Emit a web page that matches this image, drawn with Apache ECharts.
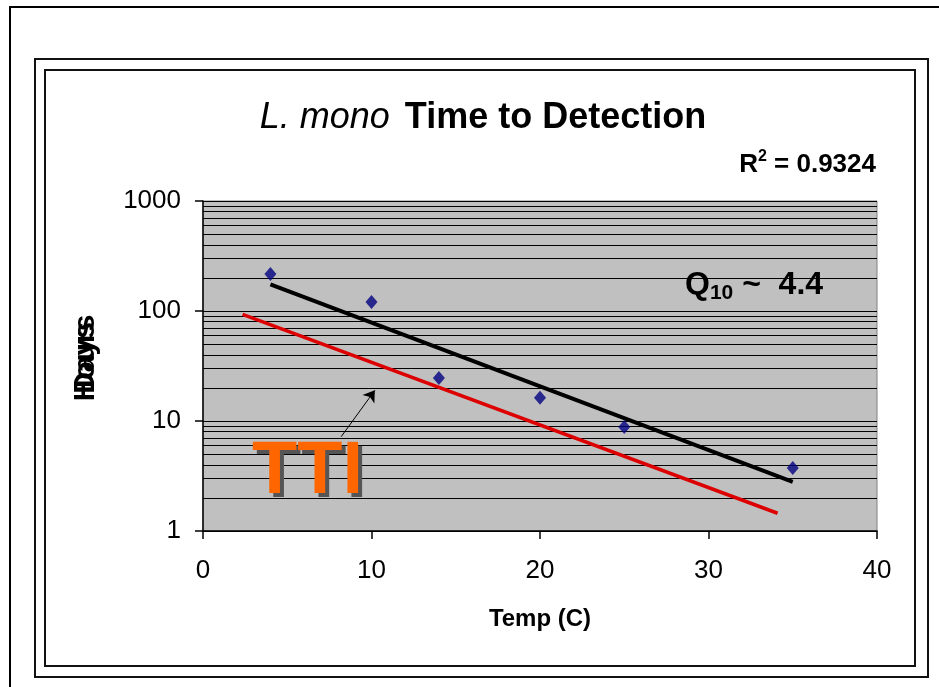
<!DOCTYPE html>
<html>
<head>
<meta charset="utf-8">
<script src="https://cdn.jsdelivr.net/npm/echarts@6/dist/echarts.min.js"></script>
<style>
  html, body { margin: 0; padding: 0; background: #fff; }
  #chart { width: 939px; height: 687px; }
</style>
</head>
<body>
<div id="chart"></div>
<script>
// measured points (hours to detection vs temperature)
const temps = [4, 10, 14, 20, 25, 35]
const hours = [217, 121, 24.6, 16.3, 8.8, 3.74]
// black trend line (end points)
const fitX = [4, 35]
const fitY = [175, 2.79]
// red TTI line (end points)
const ttiX = [2.35, 34.1]
const ttiY = [93, 1.45]
// axis ticks
const xTicks = [0, 10, 20, 30, 40]
const yTicks = [1, 10, 100, 1000]
// excel style minor gridlines on the log axis
const minorGrid = [2, 3, 4, 5, 6, 7, 8, 9, 20, 30, 40, 50, 60, 70, 80, 90, 200, 300, 400, 500, 600, 700, 800, 900]
// arrow from the TTI label to the red line
const arrowFrom = [8.2, 7.2]
const arrowTo = [10.2, 19]

const FONT = 'Liberation Sans, Arial, sans-serif'

let myChart = echarts.init(document.getElementById('chart'))

let option = {
  animation: false,
  backgroundColor: '#fff',
  title: [
    {
      text: '{i|L. mono}   {b|Time to Detection}',
      left: 478,
      textAlign: 'center',
      top: 95,
      textStyle: {
        rich: {
          i: { fontFamily: FONT, fontSize: 36, fontStyle: 'italic', fontWeight: 'normal', color: '#000' },
          b: { fontFamily: FONT, fontSize: 36, fontWeight: 'bold', color: '#000' }
        }
      }
    },
    {
      text: '{b|R}{sup|2}{b| = 0.9324}',
      right: 58,
      top: 144,
      textStyle: {
        rich: {
          b: { fontFamily: FONT, fontSize: 26, fontWeight: 'bold', color: '#000' },
          sup: { fontFamily: FONT, fontSize: 16, fontWeight: 'bold', color: '#000', padding: [0, 0, 16, 0] }
        }
      }
    },
    {
      text: '{b|Q}{sub|10}{b| ~  4.4}',
      left: 680,
      top: 262,
      textStyle: {
        rich: {
          b: { fontFamily: FONT, fontSize: 32, fontWeight: 'bold', color: '#000' },
          sub: { fontFamily: FONT, fontSize: 21, fontWeight: 'bold', color: '#000', padding: [16, 0, 0, 0] }
        }
      }
    }
  ],
  grid: {
    left: 203,
    right: 62,
    top: 201,
    bottom: 156,
    show: true,
    backgroundColor: '#C0C0C0',
    borderColor: '#808080',
    borderWidth: 1
  },
  xAxis: {
    type: 'value',
    min: xTicks[0],
    max: xTicks[xTicks.length - 1],
    interval: 10,
    name: 'Temp (C)',
    nameLocation: 'middle',
    nameGap: 76,
    nameTextStyle: { fontFamily: FONT, fontSize: 24, fontWeight: 'bold', color: '#000' },
    axisLine: { lineStyle: { color: '#000', width: 1.5 } },
    axisTick: { inside: false, length: 8, lineStyle: { color: '#000', width: 1.5 } },
    axisLabel: { margin: 27, fontFamily: FONT, fontSize: 26, color: '#000' },
    splitLine: { show: false }
  },
  yAxis: {
    type: 'log',
    logBase: 10,
    min: yTicks[0],
    max: yTicks[yTicks.length - 1],
    axisLine: { show: true, lineStyle: { color: '#000', width: 1.5 } },
    axisTick: { show: true, inside: false, length: 8, lineStyle: { color: '#000', width: 1.5 } },
    axisLabel: { margin: 22, fontFamily: FONT, fontSize: 26, color: '#000', formatter: v => String(Math.round(v)) },
    splitLine: { show: true, lineStyle: { color: '#000', width: 1 } }
  },
  graphic: [
    // outer frame
    { type: 'rect', shape: { x: 10, y: 7, width: 1000, height: 1000 }, style: { fill: 'none', stroke: '#000', lineWidth: 2 }, z: 0 },
    // double border
    { type: 'rect', shape: { x: 35, y: 59, width: 893, height: 618 }, style: { fill: 'none', stroke: '#111', lineWidth: 2 }, z: 0 },
    { type: 'rect', shape: { x: 45, y: 70, width: 870, height: 596 }, style: { fill: 'none', stroke: '#111', lineWidth: 2 }, z: 0 },
    // y axis titles, Hours and Days drawn on top of each other
    { type: 'text', x: 86, y: 358, rotation: Math.PI / 2, style: { text: 'Hours', font: 'bold 30px ' + FONT, fill: '#000', textAlign: 'center', textVerticalAlign: 'middle' }, z: 10 },
    { type: 'text', x: 86, y: 358, rotation: Math.PI / 2, style: { text: 'Days', font: 'bold 30px ' + FONT, fill: '#000', textAlign: 'center', textVerticalAlign: 'middle' }, z: 10 },
    // TTI label with shadow
    { type: 'text', x: 256, y: 477, style: { text: 'TTI', font: 'bold 74px ' + FONT, fill: '#555', textAlign: 'left', textVerticalAlign: 'middle' }, z: 10 },
    { type: 'text', x: 252, y: 473, style: { text: 'TTI', font: 'bold 74px ' + FONT, fill: '#FF6600', textAlign: 'left', textVerticalAlign: 'middle' }, z: 11 }
  ],
  series: [
    {
      name: 'TTI',
      type: 'line',
      z: 3,
      showSymbol: false,
      data: ttiX.map((x, i) => [x, ttiY[i]]),
      lineStyle: { color: '#dd0000', width: 3.5 },
      markLine: {
        z: 1,
        silent: true,
        symbol: 'none',
        label: { show: false },
        lineStyle: { color: '#000', width: 1, type: 'solid' },
        data: minorGrid.map(v => ({ yAxis: v }))
      }
    },
    {
      name: 'fit',
      type: 'line',
      z: 4,
      showSymbol: false,
      data: fitX.map((x, i) => [x, fitY[i]]),
      lineStyle: { color: '#000', width: 4 },
      markLine: {
        silent: true,
        symbol: ['none', 'arrow'],
        symbolSize: 11,
        label: { show: false },
        lineStyle: { color: '#000', width: 1, type: 'solid' },
        data: [[{ coord: arrowFrom }, { coord: arrowTo }]]
      }
    },
    {
      name: 'Hours',
      type: 'scatter',
      z: 5,
      symbol: 'diamond',
      symbolSize: [12, 14],
      itemStyle: { color: '#000080' },
      data: temps.map((t, i) => [t, hours[i]])
    }
  ]
}
myChart.setOption(option)
</script>
</body>
</html>
